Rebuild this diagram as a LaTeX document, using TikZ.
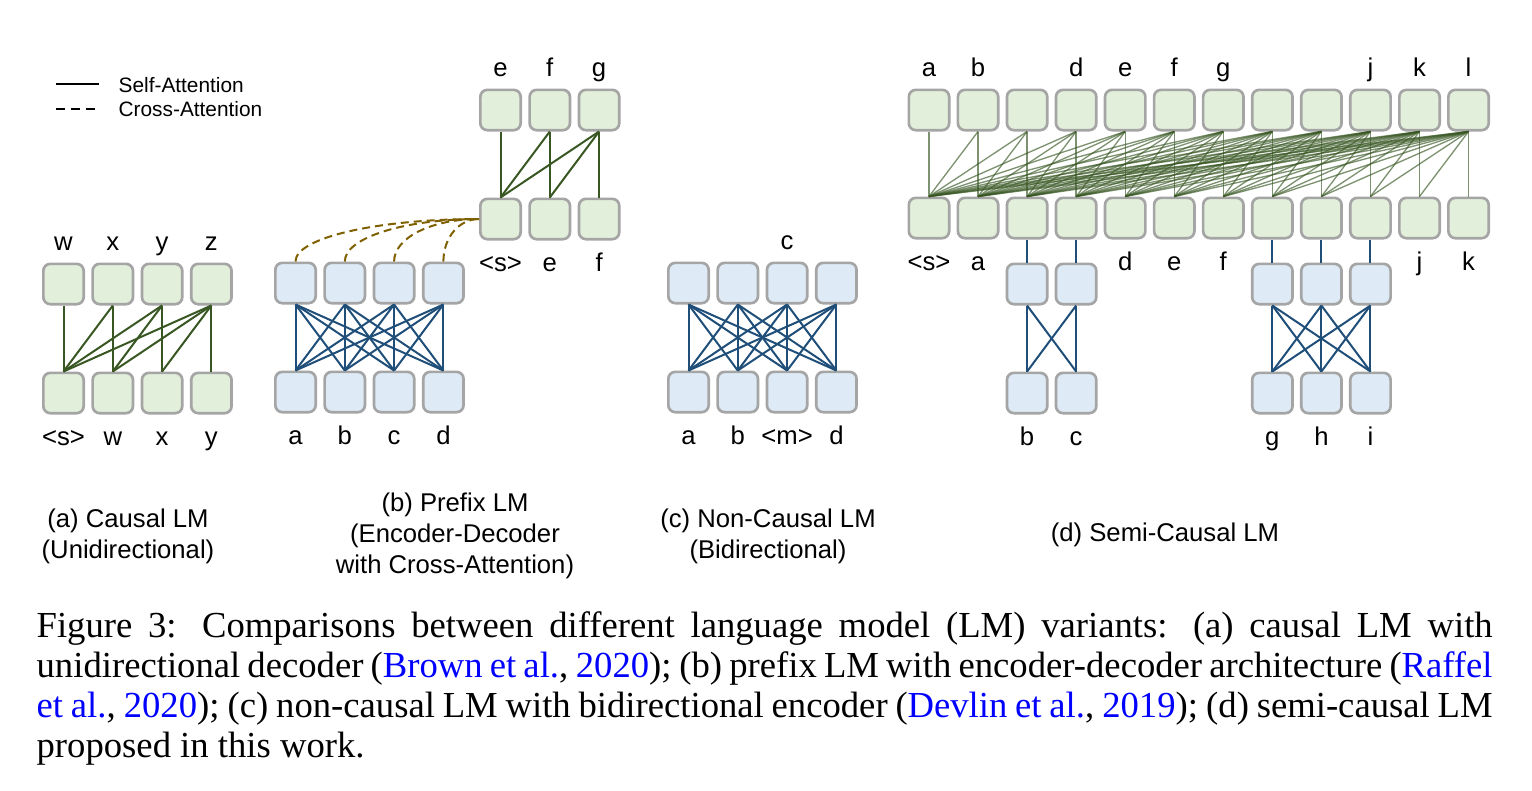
\documentclass[tikz,border=0pt]{standalone}
\usepackage{fontspec}
\setmainfont{Liberation Serif}
\setsansfont{Liberation Sans}
\usepackage{xcolor}
\usepackage{tikz}
\usetikzlibrary{positioning}

\definecolor{decfill}{HTML}{E2EFDA}
\definecolor{encfill}{HTML}{DEEBF7}
\definecolor{boxgray}{HTML}{A5A5A5}
\definecolor{decline}{HTML}{385723}
\definecolor{encline}{HTML}{1F4E79}
\definecolor{crossline}{HTML}{7F6000}
\definecolor{citeblue}{HTML}{0000FF}

\begin{document}
\begin{tikzpicture}[
  x=0.3pt, y=-0.3pt,
  font=\sffamily\fontsize{7.7}{9.3}\selectfont,
  tokbox/.style={draw=boxgray, line width=0.8pt, rounded corners=2.1pt, minimum width=12.1pt, minimum height=12.1pt, inner sep=0pt},
  decbox/.style={tokbox, fill=decfill},
  encbox/.style={tokbox, fill=encfill},
  tok/.style={inner sep=0pt, text height=5.5pt, text depth=1.5pt},
  declink/.style={draw=decline, line width=0.6pt},
  enclink/.style={draw=encline, line width=0.6pt},
  semilink/.style={draw=decline, line width=0.4pt, draw opacity=0.65},
  crosslink/.style={draw=crossline, line width=0.6pt, dash pattern=on 2.4pt off 1.5pt},
  legline/.style={draw=black, line width=0.6pt},
  legtext/.style={anchor=base west, inner sep=0pt, font=\sffamily\fontsize{6.25}{7.5}\selectfont},
  subcap/.style={anchor=base, align=center, inner sep=0pt},
  captext/.style={anchor=base west, inner sep=0pt, text width=436.8pt, align=justify, font=\rmfamily\fontsize{11}{12}\selectfont}
]
  \useasboundingbox (0,0) rectangle (1532,790);

  % legend
  \coordinate (leg-s1) at (56,84);
  \coordinate (leg-s2) at (99,84);
  \coordinate (leg-c1) at (56,109);
  \coordinate (leg-c2) at (99,109);
  \draw[legline] (leg-s1) -- (leg-s2);
  \draw[legline, dash pattern=on 2.7pt off 1.8pt] (leg-c1) -- (leg-c2);
  \node[legtext] (leg-self) at (118,92) {Self-Attention};
  \node[legtext] (leg-cross) at (118,116) {Cross-Attention};

  % (a) causal LM
  \foreach \i in {1,...,4} {
    \node[decbox] (a-out\i) at ({63.5+49.3*(\i-1)},284) {};
    \node[decbox] (a-in\i) at ({63.5+49.3*(\i-1)},393) {};
  }
  \foreach \i/\t in {1/w,2/x,3/y,4/z}
    \node[tok, above=1.8pt of a-out\i] (a-top\i) {\t};
  \foreach \i/\t in {1/<s>,2/w,3/x,4/y}
    \node[tok, below=3.6pt of a-in\i] (a-bot\i) {\t};
  \foreach \i in {1,...,4}
    \foreach \j in {1,...,\i}
      \draw[declink] (a-out\i.south) -- (a-in\j.north);

  % (b) prefix LM: encoder
  \foreach \i in {1,...,4} {
    \node[encbox] (b-enc-out\i) at ({295.5+49.3*(\i-1)},283) {};
    \node[encbox] (b-enc-in\i) at ({295.5+49.3*(\i-1)},392) {};
  }
  \foreach \i/\t in {1/a,2/b,3/c,4/d}
    \node[tok, below=3.6pt of b-enc-in\i] (b-enc-bot\i) {\t};
  \foreach \i in {1,...,4}
    \foreach \j in {1,...,4}
      \draw[enclink] (b-enc-out\i.south) -- (b-enc-in\j.north);

  % (b) prefix LM: decoder
  \foreach \i in {1,...,3} {
    \node[decbox] (b-dec-out\i) at ({500.5+49.3*(\i-1)},110) {};
    \node[decbox] (b-dec-in\i) at ({500.5+49.3*(\i-1)},219) {};
  }
  \foreach \i/\t in {1/e,2/f,3/g}
    \node[tok, above=1.8pt of b-dec-out\i] (b-dec-top\i) {\t};
  \foreach \i/\t in {1/<s>,2/e,3/f}
    \node[tok, below=3.6pt of b-dec-in\i] (b-dec-bot\i) {\t};
  \foreach \i in {1,...,3}
    \foreach \j in {1,...,\i}
      \draw[declink] (b-dec-out\i.south) -- (b-dec-in\j.north);

  % cross-attention
  \foreach \i/\d in {1/101,2/74,3/47,4/20}
    \draw[crosslink] (b-enc-out\i.north) .. controls +(0,-24) and +(-\d,0) .. (b-dec-in1.west);

  % (c) non-causal LM
  \foreach \i in {1,...,4} {
    \node[encbox] (c-out\i) at ({688.5+49.3*(\i-1)},283) {};
    \node[encbox] (c-in\i) at ({688.5+49.3*(\i-1)},392) {};
  }
  \node[tok, above=1.8pt of c-out3] (c-top3) {c};
  \foreach \i/\t in {1/a,2/b,3/<m>,4/d}
    \node[tok, below=3.6pt of c-in\i] (c-bot\i) {\t};
  \foreach \i in {1,...,4}
    \foreach \j in {1,...,4}
      \draw[enclink] (c-out\i.south) -- (c-in\j.north);

  % (d) semi-causal LM: decoder
  \foreach \i in {1,...,12} {
    \node[decbox] (d-out\i) at ({929+49.05*(\i-1)},110) {};
    \node[decbox] (d-in\i) at ({929+49.05*(\i-1)},218) {};
  }
  \foreach \i/\t in {1/a,2/b,4/d,5/e,6/f,7/g,10/j,11/k,12/l}
    \node[tok, above=1.8pt of d-out\i] (d-top\i) {\t};
  \foreach \i/\t in {1/<s>,2/a,5/d,6/e,7/f,11/j,12/k}
    \node[tok, below=3.6pt of d-in\i] (d-bot\i) {\t};
  \foreach \i in {1,...,12}
    \foreach \j in {1,...,\i}
      \draw[semilink] (d-out\i.south) -- (d-in\j.north);

  % (d) semi-causal LM: encoders
  \foreach \k/\c in {1/3,2/4} {
    \node[encbox] (d-ea-out\k) at ({929+49.05*(\c-1)},284) {};
    \node[encbox] (d-ea-in\k) at ({929+49.05*(\c-1)},393) {};
    \draw[enclink] (d-ea-out\k.north) -- (d-in\c.south);
  }
  \foreach \k/\c in {1/8,2/9,3/10} {
    \node[encbox] (d-eb-out\k) at ({929+49.05*(\c-1)},284) {};
    \node[encbox] (d-eb-in\k) at ({929+49.05*(\c-1)},393) {};
    \draw[enclink] (d-eb-out\k.north) -- (d-in\c.south);
  }
  \foreach \k/\t in {1/b,2/c}
    \node[tok, below=3.6pt of d-ea-in\k] (d-ea-bot\k) {\t};
  \foreach \k/\t in {1/g,2/h,3/i}
    \node[tok, below=3.6pt of d-eb-in\k] (d-eb-bot\k) {\t};
  \foreach \i in {1,2}
    \foreach \j in {1,2}
      \draw[enclink] (d-ea-out\i.south) -- (d-ea-in\j.north);
  \foreach \i in {1,...,3}
    \foreach \j in {1,...,3}
      \draw[enclink] (d-eb-out\i.south) -- (d-eb-in\j.north);

  % sub-captions
  \node[subcap] (cap-a) at (128,558) {(a) Causal LM\\(Unidirectional)};
  \node[subcap] (cap-b) at (455,573) {(b) Prefix LM\\(Encoder-Decoder\\with Cross-Attention)};
  \node[subcap] (cap-c) at (768,558) {(c) Non-Causal LM\\(Bidirectional)};
  \node[subcap] (cap-d) at (1165,541) {(d) Semi-Causal LM};

  % figure caption
  \node[captext] (caption) at (36,637) {Figure 3: Comparisons between different language model (LM) variants: (a) causal LM with\linebreak unidirectional decoder (\textcolor{citeblue}{Brown et al.}, \textcolor{citeblue}{2020}); (b) prefix LM with encoder-decoder architecture (\textcolor{citeblue}{Raffel}\linebreak \textcolor{citeblue}{et al.}, \textcolor{citeblue}{2020}); (c) non-causal LM with bidirectional encoder (\textcolor{citeblue}{Devlin et al.}, \textcolor{citeblue}{2019}); (d) semi-causal LM\linebreak proposed in this work.};
\end{tikzpicture}
\end{document}
